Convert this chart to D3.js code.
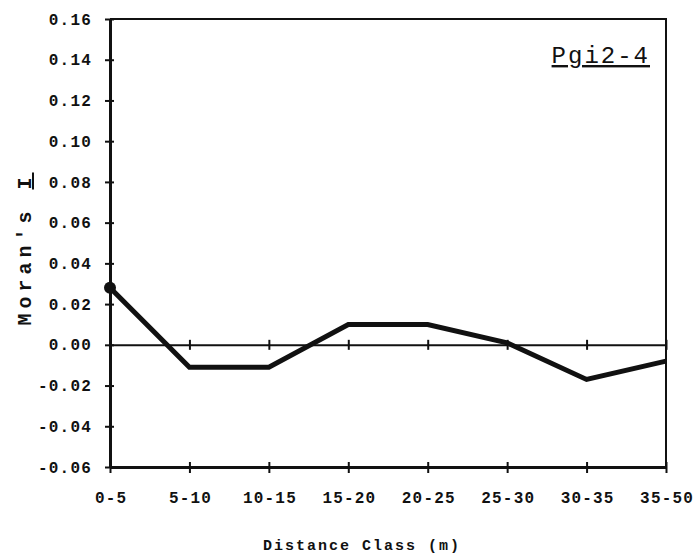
<!DOCTYPE html>
<html>
<head>
<meta charset="utf-8">
<script src="https://cdn.jsdelivr.net/npm/d3@7"></script>
<style>
  body { margin: 0; background: #fff; }
  text { font-family: "Liberation Mono", "DejaVu Sans Mono", monospace; font-weight: bold; fill: #111; }
</style>
</head>
<body>
<div class="chart-container"></div>
<script>
const categories = ['0-5', '5-10', '10-15', '15-20', '20-25', '25-30', '30-35', '35-50'];
const moransI = [0.028, -0.011, -0.011, 0.010, 0.010, 0.001, -0.017, -0.008];
const yTicks = [0.16, 0.14, 0.12, 0.10, 0.08, 0.06, 0.04, 0.02, 0.00, -0.02, -0.04, -0.06];

const W = 698, H = 558;
const margin = { top: 19, right: 32, bottom: 91, left: 110 };

const svg = d3.select('.chart-container')
    .append('svg')
    .attr('width', W)
    .attr('height', H);

const x = d3.scalePoint()
    .domain(categories)
    .range([margin.left, W - margin.right]);

const y = d3.scaleLinear()
    .domain([-0.06, 0.16])
    .range([H - margin.bottom, margin.top]);

const ink = '#111';

// frame: top and right
svg.append('path')
    .attr('d', `M${x.range()[0]},${y(0.16)}H${x.range()[1]}V${y(-0.06)}`)
    .attr('fill', 'none')
    .attr('stroke', ink)
    .attr('stroke-width', 2);

// y-axis (cross ticks)
const yAxis = svg.append('g')
    .attr('transform', `translate(${margin.left},0)`)
    .call(d3.axisLeft(y).tickValues(yTicks).tickSize(4).tickSizeOuter(0).tickPadding(14)
        .tickFormat(d => d3.format('.2f')(d).replace('\u2212', '-')));
yAxis.select('.domain').attr('stroke', ink).attr('stroke-width', 3);
yAxis.selectAll('.tick line').attr('x2', 4).attr('x1', -5).attr('stroke', ink).attr('stroke-width', 2);
yAxis.selectAll('.tick text')
    .style('font-family', '"Liberation Mono", monospace')
    .style('font-weight', 'bold')
    .style('font-size', '16px')
    .style('letter-spacing', '1.2px')
    .attr('fill', ink);

// bottom axis
const xAxis = svg.append('g')
    .attr('transform', `translate(0,${y(-0.06)})`)
    .call(d3.axisBottom(x).tickSize(5).tickSizeOuter(0).tickPadding(20));
xAxis.select('.domain').attr('stroke', ink).attr('stroke-width', 3);
xAxis.selectAll('.tick line').attr('y1', -5).attr('y2', 6).attr('stroke', ink).attr('stroke-width', 2);
xAxis.selectAll('.tick text')
    .style('font-family', '"Liberation Mono", monospace')
    .style('font-weight', 'bold')
    .style('font-size', '16px')
    .style('letter-spacing', '1.2px')
    .attr('dx', '0.6px')
    .attr('fill', ink);

// zero line with cross ticks
const zeroAxis = svg.append('g')
    .attr('transform', `translate(0,${y(0)})`)
    .call(d3.axisBottom(x).tickSize(5).tickSizeOuter(0).tickFormat(''));
zeroAxis.select('.domain').attr('stroke', ink).attr('stroke-width', 2);
zeroAxis.selectAll('.tick line').attr('y1', -5).attr('y2', 5).attr('stroke', ink).attr('stroke-width', 2);

// series line
const line = d3.line()
    .x((d, i) => x(categories[i]))
    .y(d => y(d));

svg.append('path')
    .datum(moransI)
    .attr('d', line)
    .attr('fill', 'none')
    .attr('stroke', ink)
    .attr('stroke-width', 5)
    .attr('stroke-linejoin', 'miter');

svg.append('circle')
    .attr('cx', x(categories[0]))
    .attr('cy', y(moransI[0]))
    .attr('r', 6)
    .attr('fill', ink);

// y-axis title
const yTitle = svg.append('text')
    .attr('transform', `translate(31,249) rotate(-90)`)
    .attr('text-anchor', 'middle')
    .style('font-size', '20px')
    .style('letter-spacing', '5px');
yTitle.append('tspan').text("Moran's ");
yTitle.append('tspan').text('I').style('text-decoration', 'underline');

// x-axis title
svg.append('text')
    .attr('x', 362)
    .attr('y', 550)
    .attr('text-anchor', 'middle')
    .style('font-size', '15px')
    .style('letter-spacing', '2px')
    .text('Distance Class (m)');

// panel label
svg.append('text')
    .attr('x', 650)
    .attr('y', 63)
    .attr('text-anchor', 'end')
    .style('font-size', '24px')
    .style('letter-spacing', '2px')
    .style('font-weight', 'normal')
    .style('text-decoration', 'underline')
    .text('Pgi2-4');
</script>
</body>
</html>
